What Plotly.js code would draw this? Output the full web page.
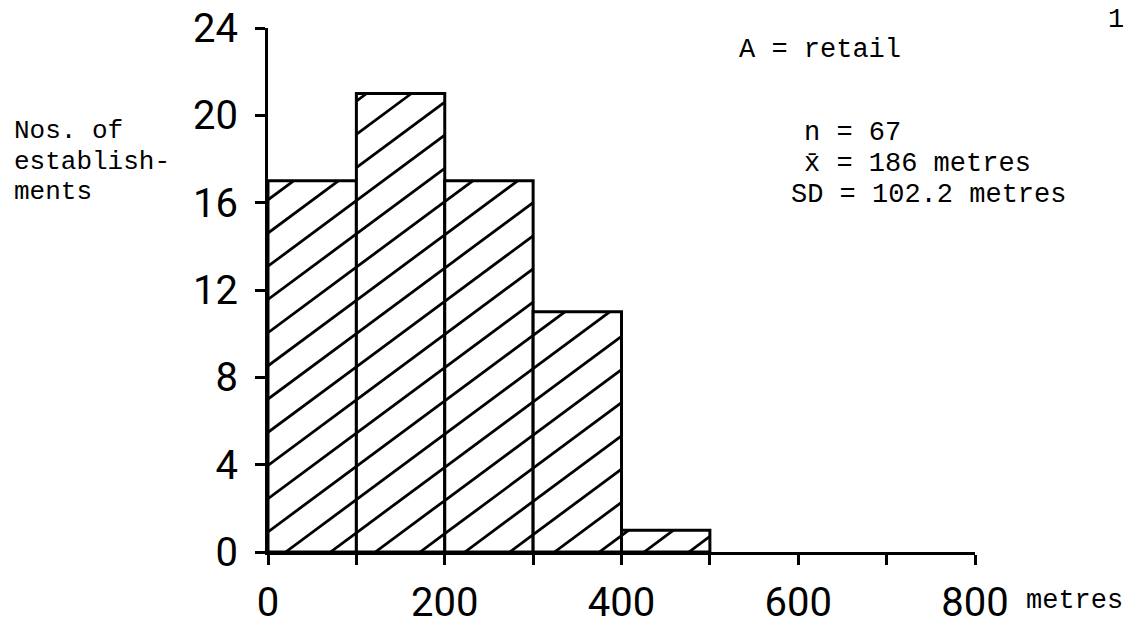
<!DOCTYPE html>
<html>
<head>
<meta charset="utf-8">
<script src="https://cdn.plot.ly/plotly-3.0.1.min.js"></script>
<style>html,body{margin:0;padding:0;background:#fff;}#chart{width:1127px;height:627px;}</style>
</head>
<body>
<div id="chart"></div>
<script>
// ---- data ----
const binStarts = [0, 100, 200, 300, 400];
const binWidth = 100;
const counts = [17, 21, 17, 11, 1];
const yTicks = [0, 4, 8, 12, 16, 20, 24];
const xTicks = [0, 100, 200, 300, 400, 500, 600, 700, 800];
const xTickLabels = ['0', '', '200', '', '400', '', '600', '', '800'];
const yAxisLabel = ['Nos. of', 'establish-', 'ments'];
const titleText = 'A = retail';
const statsLines = ['n = 67', 'x\u0304 = 186 metres', 'SD = 102.2 metres'];
const xUnit = 'metres';
const pageNo = '1';

// ---- layout geometry ----
const W = 1127, H = 627;
const M = {l: 268, r: 152, t: 28, b: 75};
const PW = W - M.l - M.r, PH = H - M.t - M.b;
const px = x => (x - M.l) / PW;
const py = y => (H - M.b - y) / PH;

// hatch lines (derived from the bars, slope and spacing in data units)
const hatchSlope = 0.03;   // count per metre
const hatchGap = 50.7;     // metres between lines along the baseline
const hatchPhase = 20;
const hx = [], hy = [];
const maxH = Math.max(...counts);
for (let i = 0; i < counts.length; i++) {
  const x0 = binStarts[i], x1 = binStarts[i] + binWidth, h = counts[i];
  for (let k = -Math.ceil(maxH / hatchSlope / hatchGap) - 2; k < 30; k++) {
    const c = hatchPhase + k * hatchGap;
    const xs = Math.max(x0, c);
    const xe = Math.min(x1, c + h / hatchSlope);
    if (xe - xs > 0.5) {
      hx.push(xs, xe, null);
      hy.push(hatchSlope * (xs - c), hatchSlope * (xe - c), null);
    }
  }
}

const centers = binStarts.map(s => s + binWidth / 2);
const traces = [
  {type: 'bar', x: centers, y: counts, width: binWidth,
   marker: {color: '#ffffff', line: {color: '#000', width: 3}},
   hoverinfo: 'skip', cliponaxis: false},
  {type: 'scatter', mode: 'lines', x: hx, y: hy,
   line: {color: '#000', width: 2.8}, hoverinfo: 'skip'}
];

const monoFamily = 'Liberation Mono, DejaVu Sans Mono, monospace';
const ann = (x, y, text, size) => ({xref: 'paper', yref: 'paper', x: px(x), y: py(y),
  text: text, showarrow: false, xanchor: 'left', yanchor: 'middle',
  font: {family: monoFamily, size: size, color: '#000'}});

const annotations = [
  ann(12, 131, yAxisLabel[0], 26),
  ann(12, 162, yAxisLabel[1], 26),
  ann(12, 192, yAxisLabel[2], 26),
  ann(737, 50, titleText, 27),
  ann(802, 133, statsLines[0], 27),
  ann(802, 164, statsLines[1], 27),
  ann(789, 195, statsLines[2], 27),
  ann(1024, 601, xUnit, 27),
  ann(1106, 20, pageNo, 27)
];

const tickFont = {family: 'Roboto, DejaVu Sans, sans-serif', size: 40, color: '#000'};
const layout = {
  width: W, height: H,
  margin: M,
  paper_bgcolor: '#fff', plot_bgcolor: '#fff',
  showlegend: false,
  bargap: 0,
  xaxis: {range: [0, 800], tickvals: xTicks, ticktext: xTickLabels, ticks: 'outside',
    ticklen: 10, tickwidth: 3, tickcolor: '#000', showline: true, linewidth: 3, linecolor: '#000',
    showgrid: false, zeroline: false, tickfont: tickFont, ticklabelstandoff: 3, fixedrange: true},
  yaxis: {range: [0, 24], tickvals: yTicks, ticks: 'outside',
    ticklen: 10, tickwidth: 3, tickcolor: '#000', showline: true, linewidth: 3, linecolor: '#000',
    showgrid: false, zeroline: false, tickfont: tickFont, ticklabelstandoff: 9, fixedrange: true},
  annotations: annotations
};

Plotly.newPlot('chart', traces, layout, {displayModeBar: false, staticPlot: true});
</script>
</body>
</html>
